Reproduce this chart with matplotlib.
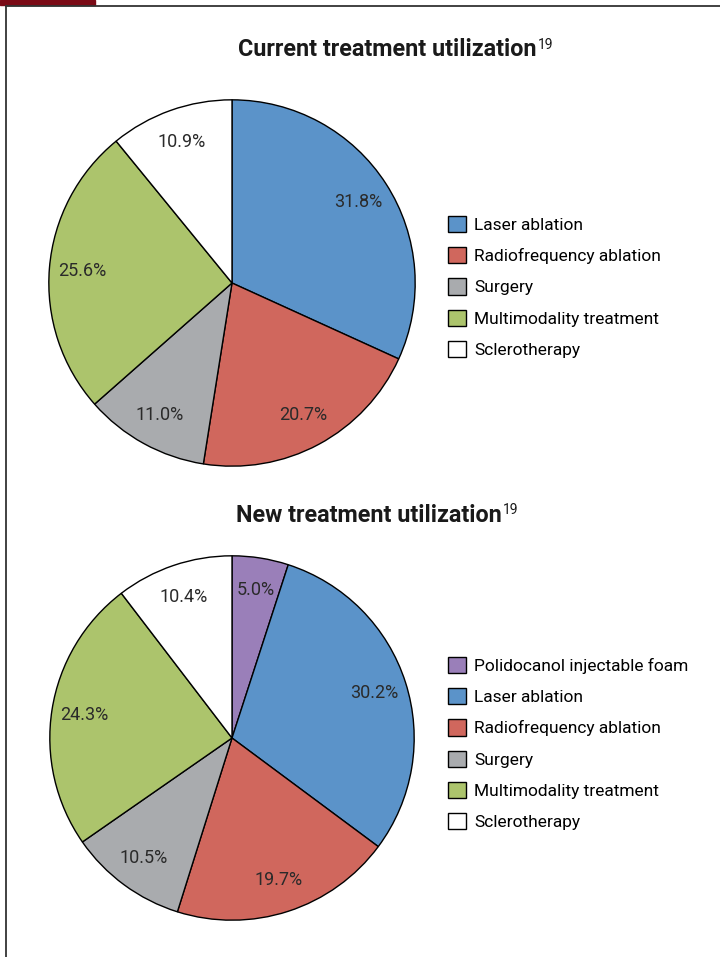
import matplotlib.pyplot as plt
from matplotlib.patches import Rectangle
from matplotlib.lines import Line2D

plt.rcParams['font.family'] = ['Roboto', 'DejaVu Sans']

# donnees
cur_labels = ["Laser ablation", "Radiofrequency ablation", "Surgery",
              "Multimodality treatment", "Sclerotherapy"]
cur_values = [31.8, 20.7, 11.0, 25.6, 10.9]
cur_colors = ["#5b93c9", "#d0675d", "#a9abae", "#acc46c", "#ffffff"]

new_labels = ["Polidocanol injectable foam", "Laser ablation", "Radiofrequency ablation",
              "Surgery", "Multimodality treatment", "Sclerotherapy"]
new_values = [5.0, 30.2, 19.7, 10.5, 24.3, 10.4]
new_colors = ["#9a7fb9", "#5b93c9", "#d0675d", "#a9abae", "#acc46c", "#ffffff"]

W, H = 720, 957
fig = plt.figure(figsize=(7.2, 9.57), dpi=100)


def px_axes(cx, cy, r):
    return fig.add_axes([(cx - r) / W, (H - cy - r) / H, 2 * r / W, 2 * r / H])


def draw_pie(ax, values, colors, labels, leg_x, leg_y):
    wedges, texts, autotexts = ax.pie(
        values, colors=colors, startangle=90, counterclock=False, radius=1,
        autopct=lambda p: f"{p:.1f}%", pctdistance=0.82,
        wedgeprops=dict(edgecolor="black", linewidth=1.0),
        textprops=dict(fontsize=13, color="#2a2a2a"))
    # garder les valeurs lues, pas celles recalculees
    for t, v in zip(autotexts, values):
        t.set_text(f"{v:.1f}%")
    ax.set_xlim(-1.01, 1.01)
    ax.set_ylim(-1.01, 1.01)
    ax.set_aspect("equal")
    ax.axis("off")
    fig.legend(wedges, labels, loc="upper left",
               bbox_to_anchor=(leg_x / W, 1 - leg_y / H), frameon=False,
               fontsize=12.5, handlelength=1.05, handleheight=1.05,
               handletextpad=0.45, labelspacing=0.82, borderpad=0, borderaxespad=0)


ax1 = px_axes(232, 283, 185)
draw_pie(ax1, cur_values, cur_colors, cur_labels, 448, 216)

ax2 = px_axes(232, 738, 184)
draw_pie(ax2, new_values, new_colors, new_labels, 448, 657)

# titres avec exposant
for y, title in [(50, "Current treatment utilization"), (515, "New treatment utilization")]:
    x_end = 537 if y == 50 else 502
    fig.text(x_end / W, 1 - y / H, title, ha="right", va="center",
             fontsize=16.8, fontweight="bold", color="#1a1a1a")
    fig.text((x_end + 1) / W, 1 - (y - 5) / H, "19", ha="left", va="center",
             fontsize=10, color="#1a1a1a")

# cadre et bande rouge
fig.add_artist(Line2D([6 / W, 1], [1 - 6 / H, 1 - 6 / H], color="#333333", lw=1.3))
fig.add_artist(Line2D([6 / W, 6 / W], [0, 1 - 6 / H], color="#333333", lw=1.3))
fig.add_artist(Rectangle((0, 1 - 5 / H), 95 / W, 5 / H, color="#7a0a16"))

fig.savefig("out.png", dpi=100)
